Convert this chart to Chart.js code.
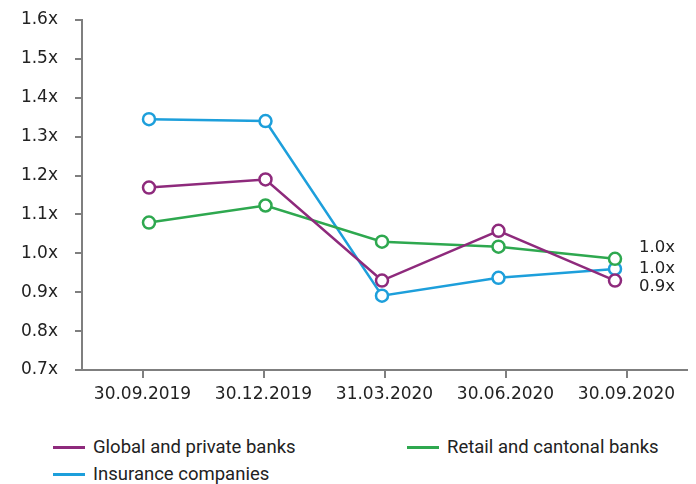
<!DOCTYPE html>
<html>
<head>
<meta charset="utf-8">
<script src="https://cdn.jsdelivr.net/npm/chart.js@4"></script>
<style>
    body { margin: 0; background: #fff; }
    #wrap { position: relative; width: 696px; height: 484px; }
    #chart { position: absolute; left: 0; top: 0; }
    #legend {
        position: absolute; left: 53px; top: 435px; width: 640px;
        display: grid; grid-template-columns: 354px 280px; row-gap: 3px;
        font-family: 'Roboto', sans-serif; font-size: 18.5px; color: #222;
    }
    .item { display: flex; align-items: center; height: 24px; }
    .swatch { width: 32px; height: 3px; margin-right: 8px; }
</style>
</head>
<body>
<div id="wrap">
    <canvas id="chart" width="696" height="420"></canvas>
    <div id="legend"></div>
</div>
<script>
// Price-to-book ratios by sector
const quarters = ['30.09.2019', '30.12.2019', '31.03.2020', '30.06.2020', '30.09.2020'];
const globalBanks = [1.169, 1.19, 0.93, 1.058, 0.93];
const retailBanks = [1.079, 1.123, 1.03, 1.017, 0.986];
const insurers = [1.345, 1.34, 0.891, 0.937, 0.96];
const endLabels = ['0.9x', '1.0x', '1.0x'];
const yTicks = [0.7, 0.8, 0.9, 1.0, 1.1, 1.2, 1.3, 1.4, 1.5, 1.6];

const AXIS_GREY = '#7f7f7f';
const TEXT = '#222';
const FONT = "'DejaVu Sans'";

function series(label, data, color, endLabel, labelShift) {
    return {
        label: label,
        // points sit on a hidden linear axis, slightly inside the category ticks as in the original
        data: data.map((v, i) => ({ x: i, y: v })),
        xAxisID: 'xp',
        borderColor: color,
        backgroundColor: '#fff',
        borderWidth: 2.5,
        pointRadius: 6,
        pointHoverRadius: 6,
        pointBorderWidth: 2.5,
        pointBackgroundColor: '#fff',
        tension: 0,
        endLabel: endLabel,
        labelShift: labelShift
    };
}

// write the last value to the right of each line
const endLabelPlugin = {
    id: 'endLabels',
    afterDatasetsDraw(chart) {
        const ctx = chart.ctx;
        ctx.save();
        ctx.font = '16.5px ' + FONT;
        ctx.fillStyle = TEXT;
        ctx.textBaseline = 'middle';
        chart.data.datasets.forEach((ds, i) => {
            const pts = chart.getDatasetMeta(i).data;
            const last = pts[pts.length - 1];
            ctx.fillText(ds.endLabel, last.x + 24, last.y + ds.labelShift);
        });
        ctx.restore();
    }
};

const chart = new Chart(document.getElementById('chart'), {
    type: 'line',
    data: {
        labels: quarters,
        datasets: [
            series('Global and private banks', globalBanks, '#8e2a7c', endLabels[0], 6),
            series('Retail and cantonal banks', retailBanks, '#2ea84f', endLabels[1], -11),
            series('Insurance companies', insurers, '#1d9fdb', endLabels[2], 0)
        ]
    },
    options: {
        responsive: false,
        animation: false,
        layout: { padding: { top: 20, right: 9, bottom: 15, left: 0 } },
        plugins: {
            legend: { display: false },
            tooltip: { enabled: false }
        },
        scales: {
            x: {
                type: 'category',
                offset: true,
                grid: { drawOnChartArea: false, drawTicks: true, tickLength: 8, color: AXIS_GREY, lineWidth: 2 },
                border: { color: AXIS_GREY, width: 2 },
                ticks: { color: TEXT, font: { family: FONT, size: 17 }, padding: 6, maxRotation: 0 },
                afterFit(scale) { scale.height = 35; }
            },
            xp: {
                type: 'linear',
                display: false,
                min: -0.575,
                max: 4.618
            },
            y: {
                min: 0.7,
                max: 1.6,
                afterBuildTicks(scale) { scale.ticks = yTicks.map(v => ({ value: v })); },
                grid: { drawOnChartArea: false, drawTicks: true, tickLength: 7, color: AXIS_GREY, lineWidth: 2 },
                border: { color: AXIS_GREY, width: 2 },
                ticks: {
                    color: TEXT,
                    font: { family: FONT, size: 17 },
                    padding: 17,
                    callback: v => v.toFixed(1) + 'x'
                },
                afterFit(scale) {
                    scale.width = 82;
                    scale.paddingTop = 0;
                    scale.paddingBottom = 0;
                }
            }
        }
    },
    plugins: [endLabelPlugin]
});

// legend below the chart, two columns
const legend = document.getElementById('legend');
chart.data.datasets.forEach(ds => {
    const item = document.createElement('div');
    item.className = 'item';
    item.innerHTML = `<span class="swatch" style="background:${ds.borderColor}"></span>${ds.label}`;
    legend.appendChild(item);
});
</script>
</body>
</html>
